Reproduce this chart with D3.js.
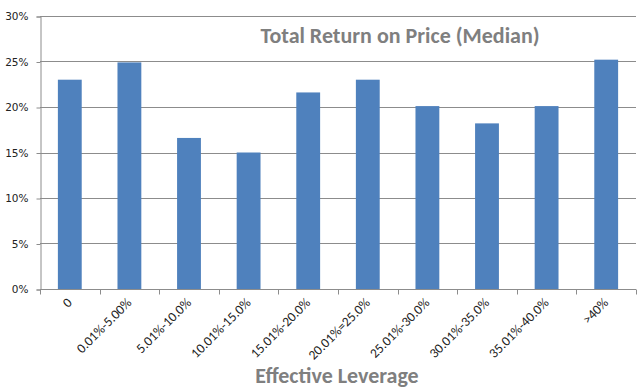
<!DOCTYPE html>
<html><head><meta charset="utf-8">
<script src="https://cdn.jsdelivr.net/npm/d3@7/dist/d3.min.js"></script>
<style>body{margin:0;background:#fff}svg{display:block}</style>
</head><body>
<svg id="c" width="640" height="392"></svg>
<script>
const categories = ["0","0.01%-5.00%","5.01%-10.0%","10.01%-15.0%","15.01%-20.0%","20.01%=25.0%","25.01%-30.0%","30.01%-35.0%","35.01%-40.0%",">40%"];
const values = [0.230,0.249,0.166,0.150,0.216,0.230,0.201,0.182,0.201,0.252];
const yTicks = [0,0.05,0.10,0.15,0.20,0.25,0.30];
const title = "Total Return on Price (Median)";
const xTitle = "Effective Leverage";

const svg = d3.select("#c");
const L = 40, R = 636, T = 16, B = 289;
const x = d3.scaleBand().domain(categories).range([L, R]).paddingInner(0.6).paddingOuter(0.3);
const y = d3.scaleLinear().domain([0, 0.30]).range([B, T]);
const font = "Calibri, Carlito, 'Open Sans', sans-serif";

// gridlines
svg.append("g").selectAll("line").data(yTicks.filter(d => d > 0)).join("line")
  .attr("x1", L).attr("x2", R).attr("y1", d => Math.round(y(d)) + 0.5).attr("y2", d => Math.round(y(d)) + 0.5)
  .attr("stroke", "#8c8c8c").attr("stroke-width", 1);

// bars
svg.append("g").selectAll("rect").data(values).join("rect")
  .attr("x", (d, i) => x(categories[i])).attr("width", x.bandwidth())
  .attr("y", d => y(d)).attr("height", d => B - y(d))
  .attr("fill", "#4f81bd");

// y axis
const ya = svg.append("g").attr("transform", `translate(${L + 0.5},0.5)`)
  .call(d3.axisLeft(y).tickValues(yTicks).tickFormat(d3.format(".0%")).tickSize(4).tickPadding(8));
ya.select(".domain").attr("stroke", "#8c8c8c");
ya.selectAll(".tick line").attr("stroke", "#8c8c8c");
ya.selectAll("text").attr("font-family", "Verdana, 'DejaVu Sans', sans-serif").attr("font-size", 10.5).attr("fill", "#222");

// x axis
const xOuter = d3.scaleLinear().domain([0, categories.length]).range([L, R]);
const xa = svg.append("g").attr("transform", `translate(0,${B + 0.5})`);
xa.append("line").attr("x1", L).attr("x2", R).attr("stroke", "#8c8c8c");
xa.selectAll("line.t").data(d3.range(categories.length + 1)).join("line").attr("class", "t")
  .attr("x1", d => Math.round(xOuter(d)) + 0.5).attr("x2", d => Math.round(xOuter(d)) + 0.5)
  .attr("y1", 0).attr("y2", 5).attr("stroke", "#8c8c8c");
xa.selectAll("text").data(categories).join("text")
  .attr("transform", d => `translate(${x(d) + x.bandwidth() / 2 + 3},${14}) rotate(-45)`)
  .attr("text-anchor", "end").attr("font-family", font).attr("font-size", 13.5).attr("fill", "#222")
  .text(d => d);

// titles
svg.append("text").attr("x", 400).attr("y", 43).attr("text-anchor", "middle")
  .attr("font-family", font).attr("font-weight", "bold").attr("font-size", 22).attr("fill", "#7f7f7f")
  .text(title);
svg.append("text").attr("x", 337).attr("y", 383).attr("text-anchor", "middle")
  .attr("font-family", font).attr("font-weight", "bold").attr("font-size", 22).attr("fill", "#7f7f7f")
  .text(xTitle);
</script>
</body></html>
